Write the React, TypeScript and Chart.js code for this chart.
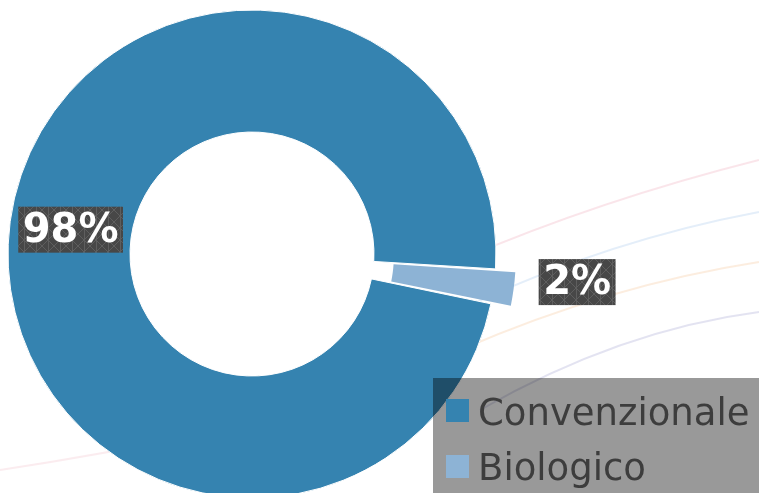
import React, { useEffect, useRef } from "react";
import { Chart, registerables } from "chart.js";

Chart.register(...registerables);

const categories = ["Convenzionale", "Biologico"];
const values = [97.7, 2.3];
const labelTexts = ["98%", "2%"];
const colors = ["#3583B0", "#8DB3D5"];
const offsets = [0, 43];

export default function App() {
  const ref = useRef<HTMLCanvasElement>(null);

  useEffect(() => {
    document.body.style.margin = "0";
    const canvas = ref.current!;

    const pc = document.createElement("canvas");
    pc.width = 12;
    pc.height = 12;
    const p = pc.getContext("2d")!;
    p.fillStyle = "#474747";
    p.fillRect(0, 0, 12, 12);
    p.strokeStyle = "#5e5e5e";
    p.lineWidth = 1;
    p.beginPath();
    p.moveTo(0, 0);
    p.lineTo(12, 12);
    p.moveTo(12, 0);
    p.lineTo(0, 12);
    p.moveTo(0.5, 0);
    p.lineTo(0.5, 12);
    p.stroke();
    const pattern = canvas.getContext("2d")!.createPattern(pc, "repeat");

    const bgPlugin = {
      id: "bg",
      beforeDraw(chart: any) {
        const ctx = chart.ctx;
        ctx.save();
        ctx.fillStyle = "#ffffff";
        ctx.fillRect(0, 0, chart.width, chart.height);
        const curves: [string, number[]][] = [
          ["rgba(240,170,185,0.3)", [460, 260, 600, 200, 759, 160]],
          ["rgba(165,200,235,0.3)", [470, 305, 610, 240, 759, 212]],
          ["rgba(245,195,150,0.3)", [460, 350, 610, 285, 759, 262]],
          ["rgba(175,175,215,0.35)", [480, 410, 620, 330, 759, 312]],
          ["rgba(240,180,190,0.25)", [0, 470, 200, 440, 433, 380]],
        ];
        ctx.lineWidth = 2;
        for (const [c, pts] of curves) {
          ctx.strokeStyle = c;
          ctx.beginPath();
          ctx.moveTo(pts[0], pts[1]);
          ctx.quadraticCurveTo(pts[2], pts[3], pts[4], pts[5]);
          ctx.stroke();
        }
        ctx.restore();
      },
    };

    const labelFont = "bold 40px 'DejaVu Sans'";

    const drawLabel = (ctx: any, text: string, cx: number, cy: number) => {
      ctx.font = labelFont;
      const w = ctx.measureText(text).width;
      const bw = w + 9;
      const bh = 46;
      ctx.fillStyle = pattern || "#474747";
      ctx.fillRect(cx - bw / 2, cy - bh / 2, bw, bh);
      ctx.fillStyle = "#ffffff";
      ctx.textAlign = "center";
      ctx.textBaseline = "middle";
      ctx.fillText(text, cx, cy + 2);
    };

    const labelPlugin = {
      id: "labels",
      afterDatasetsDraw(chart: any) {
        const ctx = chart.ctx;
        const meta = chart.getDatasetMeta(0);
        ctx.save();
        meta.data.forEach((arc: any, i: number) => {
          const { x, y, startAngle, endAngle, innerRadius, outerRadius } = arc.getProps(
            ["x", "y", "startAngle", "endAngle", "innerRadius", "outerRadius"],
            true
          );
          const mid = (startAngle + endAngle) / 2;
          if (i === 0) {
            const r = (innerRadius + outerRadius) / 2;
            drawLabel(ctx, labelTexts[i], x + Math.cos(mid) * r, y + Math.sin(mid) * r);
          } else {
            const r = outerRadius + 20;
            const tx = x + Math.cos(mid) * r;
            const ty = y + Math.sin(mid) * r;
            ctx.font = labelFont;
            const w = ctx.measureText(labelTexts[i]).width + 9;
            drawLabel(ctx, labelTexts[i], tx + 25 + w / 2, ty - 7);
          }
        });
        ctx.restore();
      },
    };

    const legendPlugin = {
      id: "customLegend",
      afterDraw(chart: any) {
        const ctx = chart.ctx;
        ctx.save();
        ctx.fillStyle = "rgba(0,0,0,0.4)";
        ctx.fillRect(433, 378, 326, 115);
        ctx.font = "37px 'DejaVu Sans'";
        ctx.textAlign = "left";
        ctx.textBaseline = "alphabetic";
        categories.forEach((c, i) => {
          const by = 399 + i * 56;
          ctx.fillStyle = colors[i];
          ctx.fillRect(446, by, 23, 23);
          ctx.fillStyle = "#3d3d3d";
          ctx.fillText(c, 478, 425 + i * 55);
        });
        ctx.restore();
      },
    };

    const chart = new Chart(canvas, {
      type: "doughnut",
      data: {
        labels: categories,
        datasets: [
          {
            data: values,
            backgroundColor: colors,
            borderColor: "#ffffff",
            borderWidth: [1, 0],
            offset: offsets,
          },
        ],
      },
      options: {
        animation: false,
        responsive: false,
        maintainAspectRatio: false,
        devicePixelRatio: 1,
        rotation: 101.78,
        cutout: "50%",
        radius: 244,
        layout: { padding: { left: 0, right: 255, top: 15, bottom: 0 } },
        plugins: {
          legend: { display: false },
          tooltip: { enabled: false },
        },
      },
      plugins: [bgPlugin, labelPlugin, legendPlugin],
    });
    return () => chart.destroy();
  }, []);

  return (
    <div style={{ position: "fixed", left: 0, top: 0, width: 759, height: 493 }}>
      <canvas ref={ref} width={759} height={493} style={{ display: "block", width: 759, height: 493 }} />
    </div>
  );
}
